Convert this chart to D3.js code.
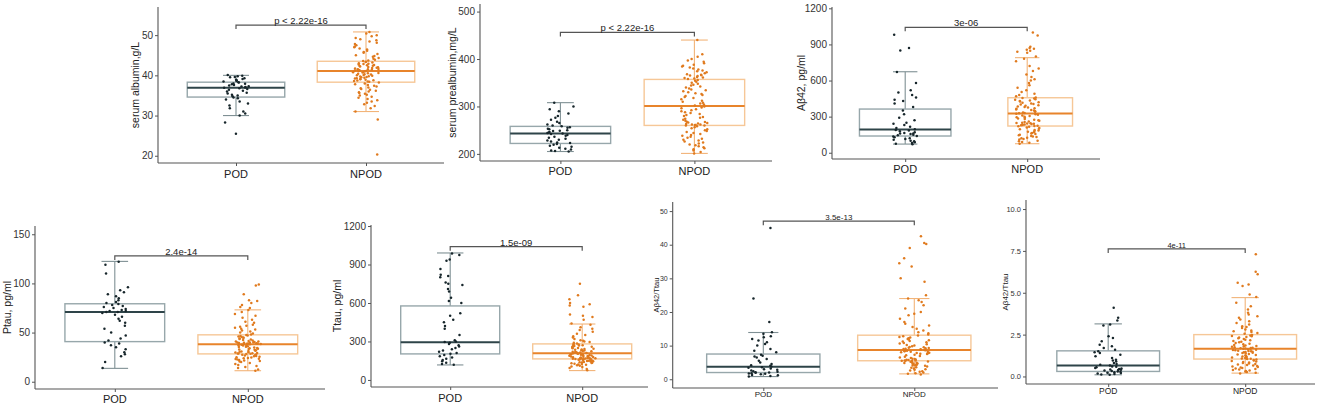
<!DOCTYPE html>
<html>
<head>
<meta charset="utf-8">
<script src="https://cdn.jsdelivr.net/npm/d3@7/dist/d3.min.js"></script>
<style>
  body { margin: 0; background: #fff; }
  svg { display: block; }
</style>
</head>
<body>
<div id="vis"></div>
<script>
const GROUPS = ["POD", "NPOD"];
const Y_TITLES = ["serum albumin,g/L", "serum prealbumin,mg/L", "A\u03b242, pg/ml",
                  "Ptau, pg/ml", "Ttau, pg/ml", "A\u03b242/Ttau", "A\u03b242/Ttau"];
const P_LABELS = ["p < 2.22e-16", "p < 2.22e-16", "3e-06", "2.4e-14", "1.5e-09", "3.5e-13", "4e-11"];
const BRACKET_Y = [52.5, 456, 1042, 128, 1039, 47, 7.62];
const Y_DOMAINS = [[18.2, 57], [185, 516], [-52, 1211], [-7.4, 158.4], [-55, 1208], [-2.6, 52.7], [-0.45, 10.54]];
const Y_TICKS = [[20, 30, 40, 50], [200, 300, 400, 500], [0, 300, 600, 900, 1200],
                 [0, 50, 100, 150], [0, 300, 600, 900, 1200], [0, 10, 20, 30, 40, 50], [0, 2.5, 5, 7.5, 10]];

// box stats: [lower whisker, q1, median, q3, upper whisker]
const POD_BOX = [[30, 34.6, 36.9, 38.3, 40], [205, 222, 243, 258, 308], [72, 139, 194, 363, 673],
                 [13.6, 40.8, 70.8, 79.3, 122.4], [117, 203, 294, 577, 990], [0.8, 2.0, 3.7, 7.5, 13.9],
                 [0.1, 0.3, 0.66, 1.53, 3.14]];
const NPOD_BOX = [[31, 38.3, 41.1, 43.5, 50.8], [201, 260, 301, 357, 440], [75, 222, 327, 457, 790],
                  [11.2, 28.3, 38.2, 47.7, 73.1], [73, 164, 208, 281, 436], [1.6, 5.5, 8.7, 13.1, 24.0],
                  [0.2, 1.04, 1.65, 2.5, 4.71]];

const POD_ALBUMIN = [40.1,39.9,39.8,39.6,39.5,39.3,39.1,38.9,38.8,38.6,38.5,38.3,38.2,38.0,37.9,37.8,37.6,37.5,37.3,
  37.2,37.1,37.0,36.9,36.8,36.6,36.4,36.2,36.0,35.7,35.5,35.2,35.0,34.8,34.5,34.3,34.0,33.5,33.0,32.5,31.8,31.0,
  30.5,30.0,28.3,25.5];
const NPOD_ALBUMIN = [50.8,50.4,50.0,49.7,49.3,49.0,48.7,48.4,48.1,47.8,47.5,47.2,47.0,46.7,46.4,46.1,45.8,45.6,
  45.3,45.0,44.8,44.6,44.3,44.1,43.9,43.7,43.6,43.4,43.3,43.2,43.0,42.9,42.8,42.7,42.6,42.5,42.4,42.3,42.2,42.1,
  42.0,41.9,41.8,41.7,41.6,41.5,41.5,41.4,41.3,41.3,41.2,41.2,41.1,41.1,41.0,40.9,40.8,40.7,40.6,40.5,40.4,40.3,
  40.2,40.1,40.0,39.9,39.8,39.7,39.6,39.5,39.4,39.3,39.2,39.1,39.0,38.9,38.8,38.7,38.6,38.5,38.4,38.2,38.0,37.8,
  37.6,37.4,37.2,37.0,36.8,36.6,36.4,36.2,36.0,35.8,35.6,35.4,35.2,35.0,34.7,34.4,34.1,33.8,33.5,33.2,32.8,32.4,
  31.8,31.0,29.0,20.3];

const POD_PREALB = [308,300,294,290,285,280,276,272,268,265,262,260,258,256,255,253,252,250,249,248,246,245,244,
  243,242,240,238,236,234,232,230,228,226,224,223,221,219,217,215,213,211,209,207,206,205];
const NPOD_PREALB = [440,410,405,400,397,394,391,388,386,384,382,380,378,376,374,372,370,368,367,366,365,364,362,
  361,360,359,358,356,354,352,350,348,346,344,342,340,338,336,334,332,330,328,326,324,322,320,318,315,312,310,308,
  306,304,302,300,298,296,294,292,290,288,286,284,282,280,278,276,274,272,270,268,267,266,265,264,263,262,262,261,
  261,260,260,258,256,254,252,250,248,246,244,242,240,238,236,234,232,230,228,226,224,222,220,218,216,214,212,210,
  207,204,201];

const POD_AB42 = [980,870,850,670,580,520,500,480,460,440,430,410,380,350,320,290,270,250,240,230,215,205,195,
  190,185,178,170,165,160,155,150,145,140,135,128,120,115,108,100,95,88,80,75,70,160];
const NPOD_AB42 = [1000,975,880,870,865,855,848,840,830,800,780,760,720,700,680,650,630,610,600,580,560,540,520,
  505,490,480,470,460,455,450,445,440,435,430,425,420,415,410,405,400,395,390,385,380,375,370,365,360,355,350,345,
  340,335,330,328,325,320,315,310,305,300,295,290,285,280,275,270,265,260,255,250,248,245,242,240,238,235,232,230,
  228,225,223,220,215,210,205,200,195,190,185,180,175,170,165,160,155,150,145,140,135,130,125,120,115,110,100,95,
  90,82,75];

const POD_PTAU = [122,119,110,96,93,91,89,87,85,83,81,80,79,78,77,76,75,74,73,72,72,71,71,70,68,66,64,62,60,57,
  54,50,47,44,42,40,39,37,35,33,30,28,26,20,14];
const NPOD_PTAU = [99,98,89,83,82,80,78,76,75,73,71,69,67,65,63,61,60,58,57,56,55,54,53,52,51,50,49,48,47.5,47,
  46.5,46,45.5,45,44.5,44,43.5,43,42.5,42,41.5,41,40.8,40.5,40.2,40,39.8,39.6,39.4,39.2,39,38.8,38.6,38.4,38.3,38,
  37.6,37.2,36.8,36.4,36,35.6,35.2,34.8,34.4,34,33.6,33.2,32.8,32.4,32,31.6,31.2,30.8,30.4,30,29.6,29.2,29,28.8,
  28.6,28.4,28.2,27.8,27.4,27,26.6,26.2,25.8,25.4,25,24.6,24.2,23.8,23.4,23,22.5,22,21.5,21,20.5,20,19,18,17,16,15,
  14,12.5,11.2];

const POD_TTAU = [985,975,940,930,865,820,810,800,760,750,740,710,690,640,615,600,520,500,470,450,420,400,350,
  310,300,295,290,280,270,260,250,240,230,220,210,205,195,185,175,165,155,145,135,125,118];
const NPOD_TTAU = [750,660,630,600,590,580,570,510,500,490,470,440,430,410,400,390,375,360,350,340,330,320,310,
  305,300,295,290,285,280,277,274,271,268,265,262,259,256,253,250,247,244,241,238,235,232,229,226,223,220,218,216,
  214,212,210,209,207,205,203,201,199,197,195,193,191,189,187,185,183,181,179,177,175,173,171,170,169,168,167,166,
  165,165,164,162,160,158,156,154,152,150,148,146,144,142,140,138,136,134,132,130,127,124,121,118,115,110,105,100,
  93,85,75];

const POD_RATIO = [45,24,17,14,13.5,12.8,12.5,12,11.5,11,10.5,10,9,8.5,8,7.3,7,6.8,6.5,6,5.5,5,4.5,4.2,4,3.8,3.6,
  3.4,3.2,3,2.8,2.6,2.4,2.2,2.1,2,1.9,1.8,1.7,1.6,1.5,1.3,1.2,1,0.8];
const NPOD_RATIO = [42.5,40.5,40.2,39,36,34.5,33.5,30,29,25,24,23.5,23,22,21,20,19.5,19,18,17,16.5,16,15.5,15,
  14.5,14,13.7,13.3,13,12.8,12.6,12.4,12.2,12,11.8,11.6,11.4,11.2,11,10.8,10.6,10.4,10.2,10,9.8,9.6,9.5,9.4,9.3,
  9.2,9.1,9,8.9,8.8,8.7,8.6,8.5,8.4,8.3,8.2,8.1,8,7.9,7.8,7.7,7.6,7.5,7.3,7.1,6.9,6.7,6.5,6.3,6.1,6,5.9,5.8,5.7,
  5.6,5.6,5.5,5.5,5.4,5.3,5.2,5.1,5,4.9,4.8,4.7,4.6,4.5,4.4,4.3,4.2,4.1,4,3.8,3.6,3.4,3.2,3,2.8,2.6,2.4,2.2,2,1.8,
  1.6,1.4];

const POD_RATIO2 = [4.1,3.5,3.35,3.1,3.05,2.4,2.3,2.1,1.9,1.8,1.7,1.6,1.5,1.45,1.4,1.3,1.2,1.1,1.0,0.95,0.9,0.8,
  0.75,0.7,0.65,0.6,0.58,0.55,0.5,0.48,0.45,0.42,0.4,0.38,0.35,0.32,0.3,0.28,0.25,0.22,0.2,0.18,0.15,0.12,0.1];
const NPOD_RATIO2 = [7.3,6.25,6.1,5.6,5.5,5.4,4.9,4.75,4.4,4.2,4.0,3.8,3.7,3.6,3.5,3.4,3.3,3.2,3.1,3.0,2.95,2.9,
  2.8,2.75,2.7,2.65,2.6,2.55,2.48,2.45,2.42,2.4,2.36,2.32,2.28,2.24,2.2,2.16,2.12,2.08,2.04,2.0,1.96,1.92,1.88,
  1.85,1.82,1.8,1.77,1.75,1.72,1.7,1.68,1.67,1.66,1.64,1.62,1.6,1.58,1.56,1.54,1.52,1.5,1.48,1.46,1.44,1.42,1.4,
  1.37,1.34,1.31,1.28,1.25,1.22,1.19,1.16,1.13,1.1,1.08,1.07,1.06,1.05,1.02,0.99,0.96,0.93,0.9,0.87,0.84,0.81,
  0.78,0.75,0.72,0.69,0.66,0.63,0.6,0.57,0.54,0.51,0.48,0.45,0.42,0.39,0.36,0.33,0.3,0.26,0.22,0.18];

const POD_POINTS = [POD_ALBUMIN, POD_PREALB, POD_AB42, POD_PTAU, POD_TTAU, POD_RATIO, POD_RATIO2];
const NPOD_POINTS = [NPOD_ALBUMIN, NPOD_PREALB, NPOD_AB42, NPOD_PTAU, NPOD_TTAU, NPOD_RATIO, NPOD_RATIO2];

// ---- layout (pixels) ----
const WIDTH = 1325, HEIGHT = 407;
const FONT = "'Liberation Sans Narrow', 'Arial Narrow', 'Liberation Sans', Arial, sans-serif";
const BIG = {tick: 10, cat: 11, title: 10.5, p: 9.5};
const SMALL6 = {tick: 7, cat: 8, title: 7.5, p: 8};
const SMALL7 = {tick: 7.5, cat: 8.5, title: 8, p: 7.5};
const PANELS = [
  {left: 158, step: 130, end: 444, top: 7, bottom: 163, titleX: 135, labY: 178, fs: BIG},
  {left: 480, step: 134, end: 772, top: 4, bottom: 161, titleX: 452, labY: 175, fs: BIG},
  {left: 832, step: 122, end: 1100, top: 7, bottom: 159, titleX: 801, labY: 173, fs: BIG, boxFrac: [0.75, 0.53], boxDx: [0, 13]},
  {left: 35, step: 133, end: 325, top: 226, bottom: 389, titleX: 7, labY: 403, fs: BIG},
  {left: 371, step: 132, end: 648, top: 225, bottom: 387, titleX: 337, labY: 402, fs: BIG},
  {left: 672.7, step: 151, end: 998, top: 202, bottom: 388, titleX: 656, labY: 397, fs: SMALL6},
  {left: 1026, step: 137, end: 1315, top: 200, bottom: 384, titleX: 1005, labY: 394, fs: SMALL7}
];
const STYLE = {
  POD:  {box: "#97a7ab", whisk: "#7f9094", median: "#2e4449", dot: "#17262b"},
  NPOD: {box: "#f6c797", whisk: "#f2b479", median: "#e8842b", dot: "#e07a1e"}
};

const svg = d3.select("#vis").append("svg")
  .attr("width", WIDTH).attr("height", HEIGHT)
  .style("font-family", FONT);

// deterministic jitter offset in [-1, 1] (position only, not data)
function jitter(i) {
  const s = Math.sin(i * 12.9898 + 78.233) * 43758.5453;
  return (s - Math.floor(s)) * 2 - 1;
}

function draw_panel(k) {
  const L = PANELS[k];
  const g = svg.append("g").attr("class", "panel");
  const Y = d3.scaleLinear().domain(Y_DOMAINS[k]).range([L.bottom, L.top]);
  const X = d3.scalePoint().domain(GROUPS).range([L.left, L.left + 2.2 * L.step]).padding(0.6);
  const boxFrac = L.boxFrac || [0.75, 0.75];
  const boxDx = L.boxDx || [0, 0];
  const fmt = k === 6 ? d3.format(".1f") : d3.format("d");

  // y axis
  const yAxis = g.append("g")
    .attr("transform", `translate(${L.left},0)`)
    .call(d3.axisLeft(Y).tickValues(Y_TICKS[k]).tickFormat(fmt).tickSize(3).tickPadding(2));
  yAxis.select(".domain").attr("d", `M0,${L.top}V${L.bottom}`);
  // x axis
  const xAxis = g.append("g")
    .attr("transform", `translate(0,${L.bottom})`)
    .call(d3.axisBottom(X).tickSize(3).tickFormat(""));
  xAxis.select(".domain").attr("d", `M${L.left},0H${L.end}`);
  g.selectAll(".domain").attr("stroke", "#555").attr("stroke-width", 1.1);
  g.selectAll(".tick line").attr("stroke", "#555");
  yAxis.selectAll("text").attr("font-size", L.fs.tick).attr("fill", "#333").style("font-family", FONT);

  // category labels
  g.selectAll(".cat").data(GROUPS).enter().append("text")
    .attr("x", d => X(d)).attr("y", L.labY)
    .attr("text-anchor", "middle").attr("font-size", L.fs.cat).attr("fill", "#222")
    .text(d => d);

  // y title
  g.append("text")
    .attr("transform", `translate(${L.titleX},${(L.top + L.bottom) / 2}) rotate(-90)`)
    .attr("text-anchor", "middle").attr("dy", "0.35em")
    .attr("font-size", L.fs.title).attr("fill", "#222")
    .text(Y_TITLES[k]);

  // boxes
  GROUPS.forEach((grp, j) => {
    const st = STYLE[grp];
    const s = (j === 0 ? POD_BOX : NPOD_BOX)[k];
    const cx = X(grp);
    const bw = boxFrac[j] * L.step;
    const bx = cx + boxDx[j] - bw / 2;
    const cap = 0.1 * L.step;

    // whiskers
    g.append("line").attr("x1", cx).attr("x2", cx).attr("y1", Y(s[3])).attr("y2", Y(s[4]))
      .attr("stroke", st.whisk).attr("stroke-width", 1.1);
    g.append("line").attr("x1", cx).attr("x2", cx).attr("y1", Y(s[1])).attr("y2", Y(s[0]))
      .attr("stroke", st.whisk).attr("stroke-width", 1.1);
    [s[0], s[4]].forEach(v => {
      g.append("line").attr("x1", cx - cap).attr("x2", cx + cap).attr("y1", Y(v)).attr("y2", Y(v))
        .attr("stroke", st.whisk).attr("stroke-width", 1.1);
    });

    g.append("rect")
      .attr("x", bx).attr("width", bw)
      .attr("y", Y(s[3])).attr("height", Y(s[1]) - Y(s[3]))
      .attr("fill", "none").attr("stroke", st.box).attr("stroke-width", 1.4);
    g.append("line")
      .attr("x1", bx).attr("x2", bx + bw).attr("y1", Y(s[2])).attr("y2", Y(s[2]))
      .attr("stroke", st.median).attr("stroke-width", 2);
  });

  // jittered points
  GROUPS.forEach((grp, j) => {
    const pts = (j === 0 ? POD_POINTS : NPOD_POINTS)[k];
    const cx = X(grp);
    const jw = 0.1 * L.step;
    g.selectAll(".pt" + j).data(pts).enter().append("circle")
      .attr("cx", (d, i) => cx + jitter(i + 200 * j + 1000 * k) * jw)
      .attr("cy", d => Y(d))
      .attr("r", 1.25)
      .attr("fill", STYLE[grp].dot);
  });

  // significance bracket
  const x1 = X("POD"), x2 = X("NPOD"), by = Y(BRACKET_Y[k]);
  g.append("path")
    .attr("d", `M${x1},${by + 4}V${by}H${x2}V${by + 4}`)
    .attr("fill", "none").attr("stroke", "#555").attr("stroke-width", 1.2);
  g.append("text")
    .attr("x", (x1 + x2) / 2).attr("y", by - 1)
    .attr("text-anchor", "middle").attr("font-size", L.fs.p).attr("fill", "#222")
    .text(P_LABELS[k]);
}

d3.range(PANELS.length).forEach(draw_panel);
</script>
</body>
</html>
